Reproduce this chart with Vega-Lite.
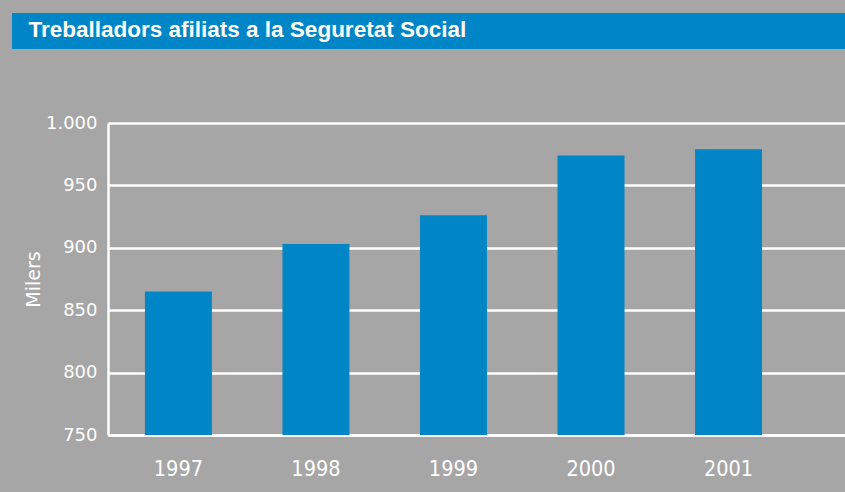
{
  "$schema": "https://vega.github.io/schema/vega-lite/v6.json",
  "background": "#a6a6a6",
  "padding": {"left": 12, "top": 13, "right": 0, "bottom": 14},
  "spacing": 65,
  "config": {"view": {"stroke": null}, "font": "DejaVu Sans"},
  "vconcat": [
    {
      "width": 737,
      "height": 36,
      "data": {"values": [{"start": 0, "end": 1}]},
      "mark": {"type": "rect", "color": "#0085c6"},
      "encoding": {
        "x": {
          "field": "start",
          "type": "quantitative",
          "scale": {"domain": [0, 1], "range": [-96, 737], "nice": false, "zero": false},
          "axis": {
            "orient": "bottom",
            "zindex": 1,
            "labels": false,
            "ticks": false,
            "domain": false,
            "grid": false,
            "title": "Treballadors afiliats a la Seguretat Social",
            "titleX": -80,
            "titleY": -12.5,
            "titleAnchor": "start",
            "titleAlign": "left",
            "titleBaseline": "alphabetic",
            "titleColor": "white",
            "titleFont": "Liberation Sans",
            "titleFontSize": 22.5,
            "titleFontWeight": "bold"
          }
        },
        "x2": {"field": "end"}
      }
    },
    {
      "width": 737,
      "height": 312,
      "data": {
        "values": [
          {"year": "1997", "afiliats": 865},
          {"year": "1998", "afiliats": 903},
          {"year": "1999", "afiliats": 926},
          {"year": "2000", "afiliats": 974},
          {"year": "2001", "afiliats": 979}
        ]
      },
      "mark": {"type": "bar", "color": "#0085c6", "clip": true},
      "encoding": {
        "x": {
          "field": "year",
          "type": "ordinal",
          "scale": {"paddingInner": 0.513, "paddingOuter": 0.436, "align": 0.308},
          "axis": {
            "title": null,
            "labelAngle": 0,
            "labelColor": "white",
            "labelFont": "DejaVu Sans Condensed",
            "labelFontSize": 21.5,
            "labelPadding": 23,
            "ticks": false,
            "tickSize": 0,
            "domain": true,
            "domainColor": "white",
            "domainWidth": 2.5,
            "grid": false
          }
        },
        "y": {
          "field": "afiliats",
          "type": "quantitative",
          "scale": {"domain": [750, 1000], "zero": false, "nice": false},
          "axis": {
            "title": ["", "Milers"],
            "titleColor": "white",
            "titleFont": "DejaVu Sans",
            "titleFontSize": 19,
            "titleFontWeight": "normal",
            "titlePadding": 2,
            "titleLineHeight": 12,
            "values": [750, 800, 850, 900, 950, 1000],
            "labelExpr": "replace(datum.label, ',', '.')",
            "labelColor": "white",
            "labelFontSize": 18,
            "labelPadding": 11,
            "ticks": false,
            "tickSize": 0,
            "domainColor": "white",
            "domainWidth": 2.5,
            "gridColor": "white",
            "gridWidth": 2.5,
            "gridOpacity": 1
          }
        }
      }
    }
  ]
}
